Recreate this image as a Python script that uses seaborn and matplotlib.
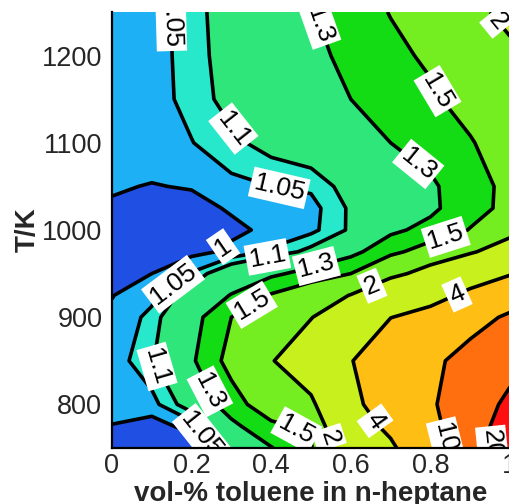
import numpy as np
import matplotlib
matplotlib.use("Agg")
import matplotlib.pyplot as plt
import seaborn as sns
from matplotlib.ticker import MultipleLocator, FixedLocator, FixedFormatter

# ---- data ----
toluene_fraction = [0.0, 0.1, 0.2, 0.3, 0.4, 0.5, 0.6, 0.7, 0.8, 0.9, 1.0]
temperature_K = [750, 775, 800, 850, 900, 925, 950, 975, 1000, 1025, 1050, 1100, 1150, 1200, 1250]

ratio_750 = [0.98, 0.965, 0.95, 1.18, 1.29, 1.47, 2.45, 3.6, 6.2, 15.0, 24.0]
ratio_775 = [0.998, 0.975, 1.02, 1.25, 1.45, 1.55, 2.8, 4.5, 7.5, 16.0, 24.0]
ratio_800 = [1.02, 1.03, 1.14, 1.40, 1.65, 1.83, 3.3, 5.5, 9.0, 15.0, 22.0]
ratio_850 = [1.02, 1.09, 1.27, 1.58, 1.95, 2.6, 3.85, 6.5, 8.5, 12.5, 17.0]
ratio_900 = [1.01, 1.065, 1.22, 1.50, 1.75, 1.97, 2.6, 3.95, 4.8, 7.5, 11.0]
ratio_925 = [0.998, 1.035, 1.14, 1.31, 1.52, 1.695, 2.02, 2.7, 3.2, 4.5, 6.5]
ratio_950 = [0.99, 1.0, 1.055, 1.17, 1.26, 1.37, 1.5, 1.82, 2.25, 2.9, 3.8]
ratio_975 = [0.985, 0.98, 0.985, 1.01, 1.06, 1.12, 1.24, 1.44, 1.62, 1.92, 2.4]
ratio_1000 = [0.98, 0.965, 0.975, 0.99, 1.01, 1.035, 1.11, 1.26, 1.36, 1.51, 1.78]
ratio_1025 = [0.995, 0.975, 0.985, 1.005, 1.02, 1.03, 1.11, 1.20, 1.26, 1.42, 1.56]
ratio_1050 = [1.004, 0.998, 1.003, 1.035, 1.05, 1.06, 1.13, 1.22, 1.27, 1.41, 1.56]
ratio_1100 = [1.012, 1.022, 1.048, 1.085, 1.125, 1.155, 1.24, 1.30, 1.37, 1.48, 1.65]
ratio_1150 = [1.015, 1.027, 1.068, 1.125, 1.185, 1.24, 1.30, 1.37, 1.46, 1.60, 1.78]
ratio_1200 = [1.015, 1.027, 1.072, 1.135, 1.20, 1.26, 1.34, 1.44, 1.54, 1.72, 1.92]
ratio_1250 = [1.015, 1.027, 1.075, 1.14, 1.21, 1.29, 1.38, 1.51, 1.67, 1.90, 2.10]

contour_levels = [1, 1.05, 1.1, 1.3, 1.5, 2, 4, 10, 20]
level_texts = ["1", "1.05", "1.1", "1.3", "1.5", "2", "4", "10", "20"]
fill_bounds = [0.0, 1, 1.05, 1.1, 1.3, 1.5, 2, 4, 10, 20, 100]
band_colors = ["#1f4fe3", "#1eb0f5", "#28e8cc", "#2ee67a", "#14dc14",
               "#74ee20", "#c8f01c", "#ffbe14", "#ff6e0f", "#ff1010"]

# label anchor points (x, T) for each level
label_points = {
    1: [(0.276, 983)],
    1.05: [(0.135, 1238), (0.42, 1048), (0.153, 938), (0.221, 764)],
    1.1: [(0.304, 1116), (0.39, 970), (0.103, 841)],
    1.3: [(0.525, 1236), (0.78, 1082), (0.515, 956), (0.246, 815)],
    1.5: [(0.817, 1159), (0.84, 990), (0.354, 912), (0.465, 772)],
    2: [(0.967, 1239), (0.656, 933), (0.54, 761)],
    4: [(0.867, 926), (0.648, 777)],
    10: [(0.85, 764)],
    20: [(0.962, 755)],
}

xtick_values = [0, 0.2, 0.4, 0.6, 0.8, 1.0]
xtick_texts = ["0", "0.2", "0.4", "0.6", "0.8", "1"]
ytick_values = [800, 900, 1000, 1100, 1200]

# ---- build grid ----
Z = np.array([ratio_750, ratio_775, ratio_800, ratio_850, ratio_900, ratio_925,
              ratio_950, ratio_975, ratio_1000, ratio_1025, ratio_1050,
              ratio_1100, ratio_1150, ratio_1200, ratio_1250])

sns.set_style("white")
plt.rcParams["font.family"] = ["Liberation Sans", "DejaVu Sans"]

fig = plt.figure(figsize=(5.10, 5.04), dpi=100)
ax = fig.add_axes([112 / 510, 1 - 448 / 504, 398 / 510, 436 / 504])

ax.contourf(toluene_fraction, temperature_K, Z, levels=fill_bounds,
            colors=band_colors, antialiased=True)

fmt = dict(zip(contour_levels, level_texts))
for lvl in contour_levels:
    cs = ax.contour(toluene_fraction, temperature_K, Z, levels=[lvl],
                    colors="black", linewidths=2.6)
    pts = label_points.get(lvl, [])
    if pts:
        ax.clabel(cs, fmt=fmt, manual=pts, inline=True,
                  inline_spacing=1, fontsize=19)

for t in ax.texts:
    t.set_bbox(dict(boxstyle="square,pad=0.12", facecolor="white", edgecolor="none"))
    t.set_clip_on(True)
    t.set_clip_path(ax.patch)

ax.set_xlim(0, 1)
ax.set_ylim(750, 1250)
ax.xaxis.set_major_locator(FixedLocator(xtick_values))
ax.xaxis.set_major_formatter(FixedFormatter(xtick_texts))
ax.xaxis.set_minor_locator(MultipleLocator(0.05))
ax.yaxis.set_major_locator(FixedLocator(ytick_values))
ax.yaxis.set_minor_locator(MultipleLocator(20))

ax.tick_params(axis="both", which="both", direction="in", color="black",
               labelsize=19.5, bottom=True, left=True, top=False, right=False)
ax.tick_params(axis="both", which="major", length=7.5, width=1.2)
ax.tick_params(axis="both", which="minor", length=4, width=1.0)
ax.tick_params(axis="x", which="major", pad=3.5)
ax.tick_params(axis="y", which="major", pad=7)

sns.despine(ax=ax, top=True, right=True)
for side in ["left", "bottom"]:
    ax.spines[side].set_linewidth(1.6)
    ax.spines[side].set_color("black")
    ax.spines[side].set_zorder(5)

ax.set_xlabel("vol-% toluene in n-heptane", fontsize=20, fontweight="bold", labelpad=1.5)
ax.set_ylabel("T/K", fontsize=20, fontweight="bold", labelpad=1)

fig.savefig("out.png", dpi=100)
